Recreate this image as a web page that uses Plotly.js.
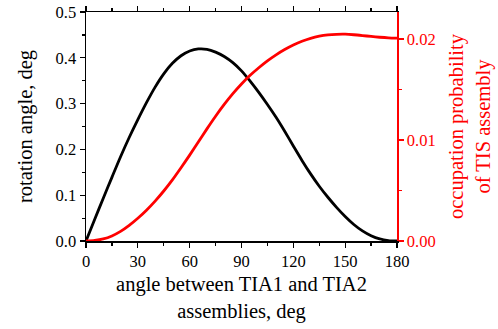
<!DOCTYPE html>
<html>
<head>
<meta charset="utf-8">
<script src="https://cdn.plot.ly/plotly-3.0.1.min.js"></script>
<style>html,body{margin:0;padding:0;background:#fff;}#chart{width:498px;height:329px;}</style>
</head>
<body>
<div id="chart"></div>
<script>
const angle = [0,5,10,15,20,25,30,35,40,45,50,55,60,65,70,75,80,85,90,95,100,105,110,115,120,125,130,135,140,145,150,155,160,165,170,175,180];
const rotationAngle = [0,0.047,0.0935,0.139,0.184,0.226,0.265,0.302,0.336,0.365,0.388,0.4045,0.4148,0.4193,0.4185,0.4125,0.403,0.3895,0.3715,0.349,0.3245,0.298,0.27,0.2395,0.2075,0.176,0.1465,0.1195,0.0955,0.0735,0.0535,0.036,0.022,0.0115,0.0045,0.001,0];
const occupationProb = [0,0.00005,0.0002,0.0005,0.00095,0.00155,0.00225,0.00305,0.00395,0.00495,0.00605,0.00725,0.0085,0.0098,0.0111,0.01235,0.01352,0.01459,0.01555,0.0164,0.01715,0.01783,0.01843,0.01895,0.0194,0.01977,0.02006,0.02027,0.0204,0.02046,0.02047,0.02042,0.02034,0.02025,0.02017,0.02011,0.02008];
const xTicks = [0,30,60,90,120,150,180];
const yLeftTicks = [0,0.1,0.2,0.3,0.4,0.5];
const yRightTicks = [0,0.01,0.02];

const font = 'Liberation Serif, Times New Roman, serif';
const traces = [
  {x: angle, y: rotationAngle, type: 'scatter', mode: 'lines', line: {color: '#000', width: 2.8, shape: 'spline', smoothing: 0.8}, yaxis: 'y', hoverinfo: 'skip'},
  {x: angle, y: occupationProb, type: 'scatter', mode: 'lines', line: {color: '#ff0000', width: 2.8, shape: 'spline', smoothing: 0.8}, yaxis: 'y2', hoverinfo: 'skip'}
];
const layout = {
  width: 498, height: 329,
  margin: {l: 86, r: 101, t: 12, b: 88},
  paper_bgcolor: '#fff', plot_bgcolor: '#fff',
  showlegend: false,
  font: {family: font, size: 16, color: '#000'},
  xaxis: {
    range: [0, 180], tickvals: xTicks, ticks: 'outside', ticklen: 5, tickwidth: 1.3, tickcolor: '#000',
    showline: true, linecolor: '#000', linewidth: 1.5, mirror: 'ticks', showgrid: false, zeroline: false,
    minor: {dtick: 15, ticks: 'outside', ticklen: 3, tickwidth: 1.2, tickcolor: '#000', showgrid: false},
    tickfont: {family: font, size: 16.5, color: '#000'},
    title: {text: 'angle between TIA1 and TIA2<br>assemblies, deg', font: {family: font, size: 20.5, color: '#000'}, standoff: 6}
  },
  yaxis: {
    range: [0, 0.5], tickvals: yLeftTicks, tickformat: '.1f', ticks: 'outside', ticklen: 5, tickwidth: 1.3, tickcolor: '#000',
    showline: true, linecolor: '#000', linewidth: 1.5, showgrid: false, zeroline: false,
    minor: {dtick: 0.05, ticks: 'outside', ticklen: 3, tickwidth: 1.2, tickcolor: '#000', showgrid: false},
    tickfont: {family: font, size: 16.5, color: '#000'},
    title: {text: 'rotation angle, deg', font: {family: font, size: 20.5, color: '#000'}, standoff: 17}
  },
  yaxis2: {
    overlaying: 'y', side: 'right', anchor: 'x',
    range: [0, 0.02267], tickvals: yRightTicks, tickformat: '.2f', ticks: 'outside', ticklen: 5, tickwidth: 1.3, tickcolor: '#ff0000',
    showline: true, linecolor: '#ff0000', linewidth: 1.5, showgrid: false, zeroline: false,
    minor: {dtick: 0.005, ticks: 'outside', ticklen: 3, tickwidth: 1.2, tickcolor: '#ff0000', showgrid: false},
    tickfont: {family: font, size: 16.5, color: '#ff0000'},
    title: {text: 'occupation probability<br>of TIS assembly', font: {family: font, size: 20.5, color: '#ff0000'}, standoff: 14}
  }
};
Plotly.newPlot('chart', traces, layout, {staticPlot: true, displayModeBar: false});
</script>
</body>
</html>
